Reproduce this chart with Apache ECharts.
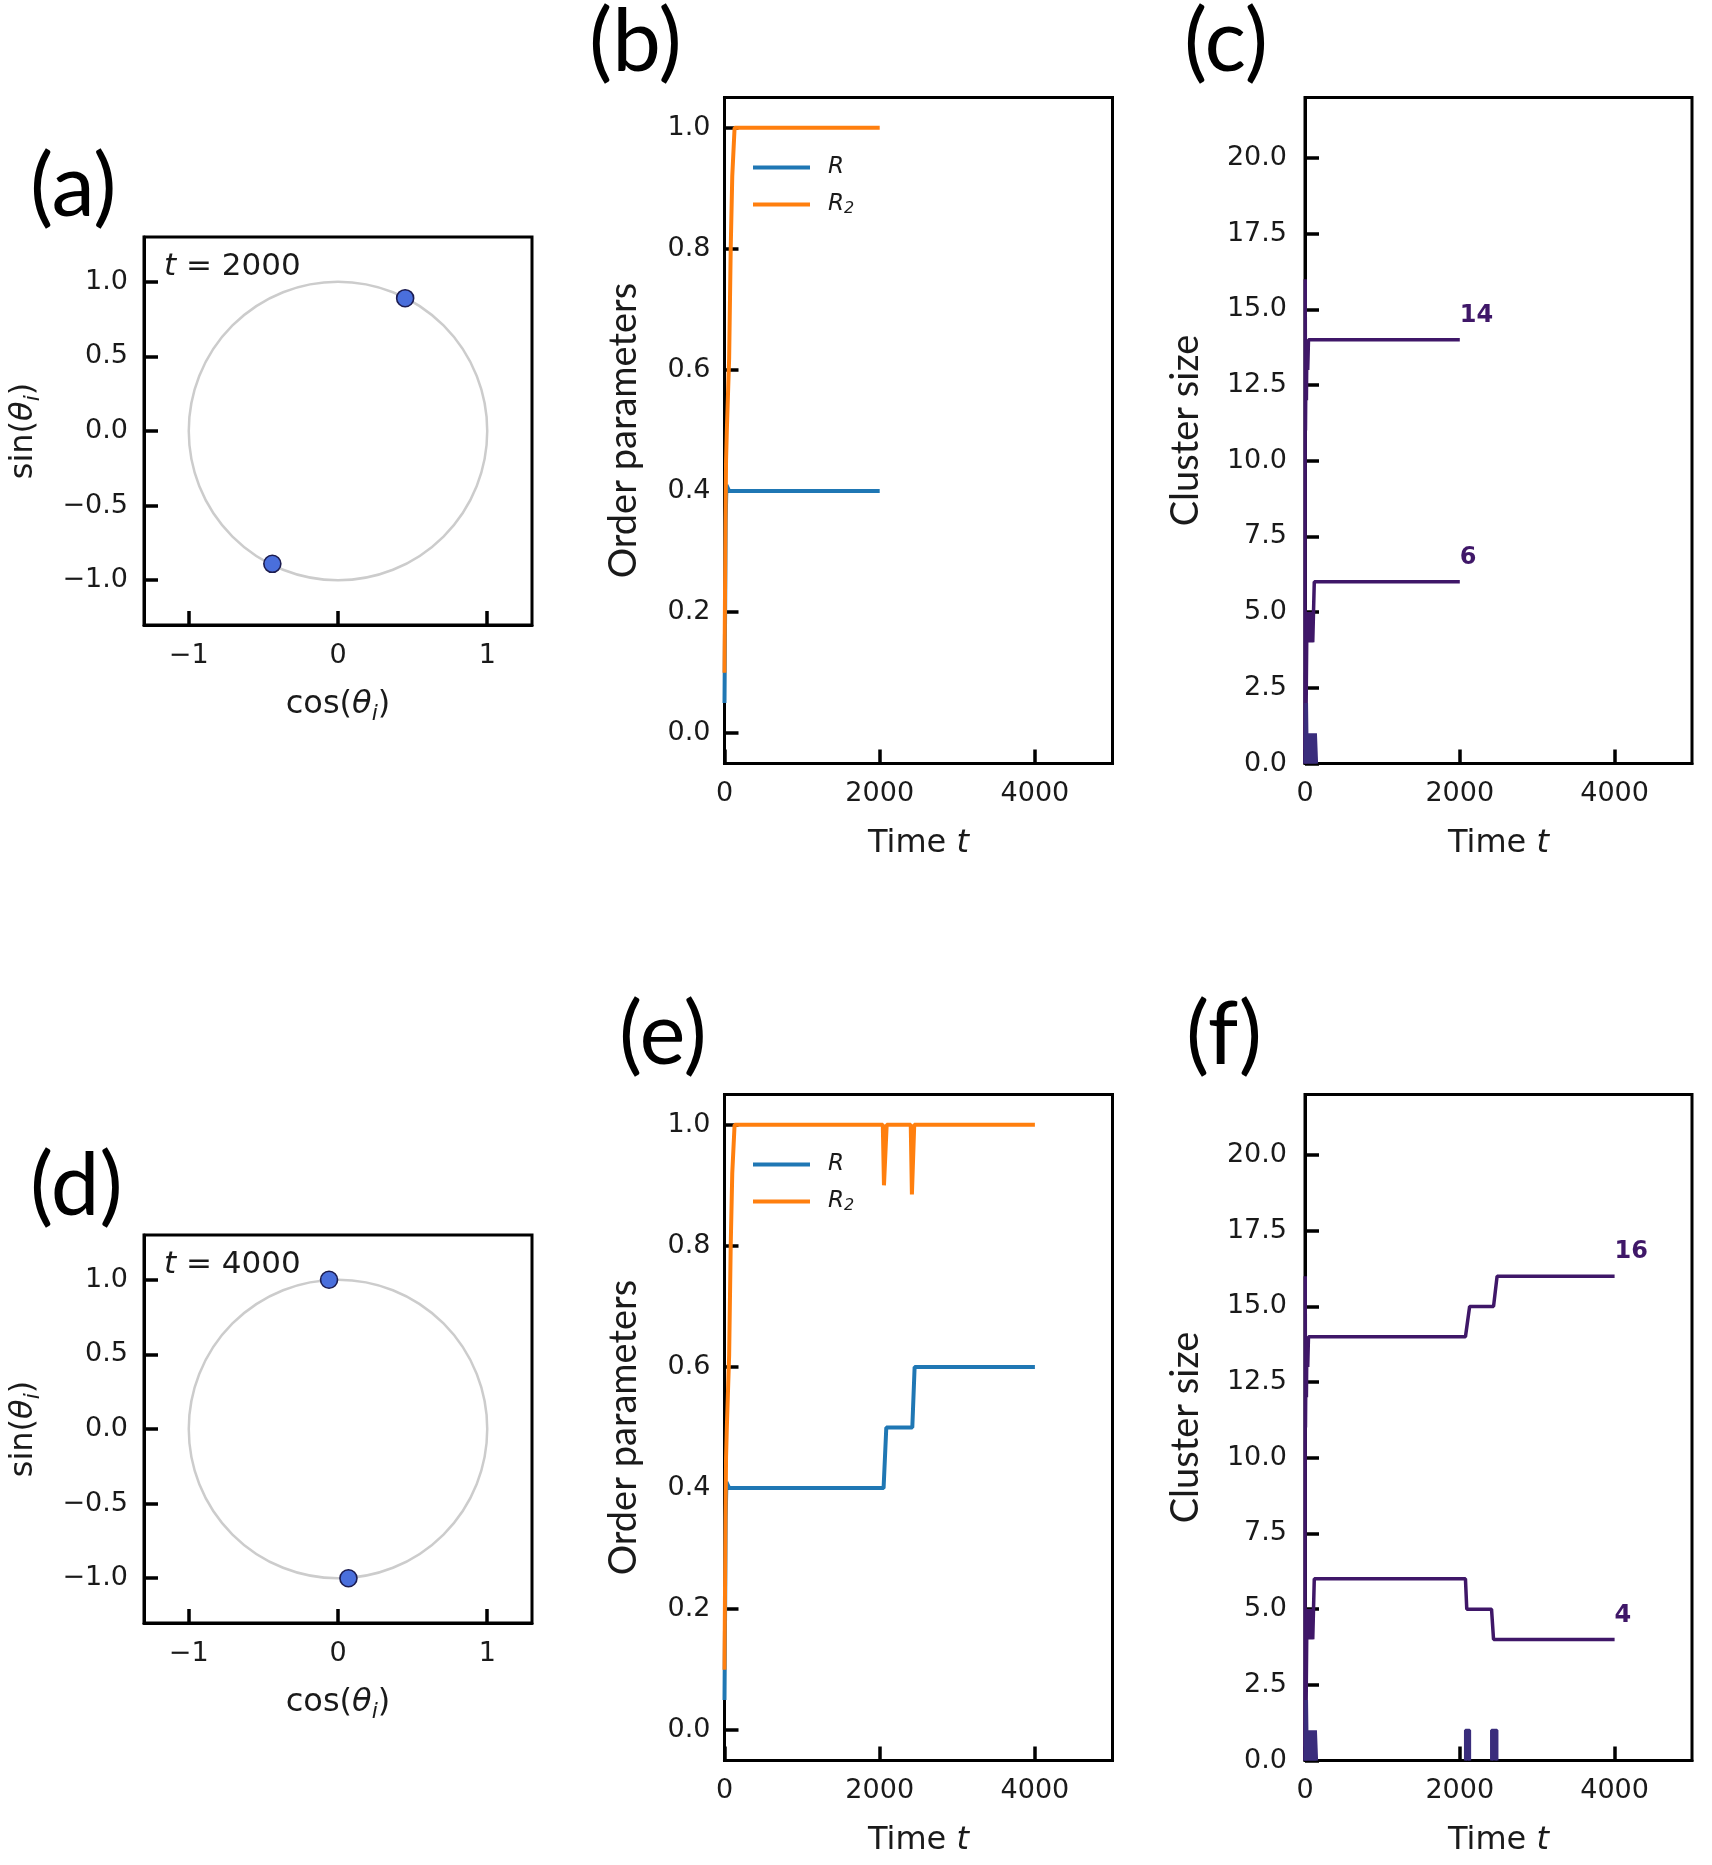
<!DOCTYPE html>
<html>
<head>
<meta charset="utf-8">
<script src="https://cdn.jsdelivr.net/npm/echarts@6/dist/echarts.min.js"></script>
<style>
  html, body { margin: 0; padding: 0; background: #fff; }
  #chart { width: 1712px; height: 1865px; }
</style>
</head>
<body>
<div id="chart"></div>
<script>
// ---- data ----

// phase snapshots (cos, sin) at t = 2000 and t = 4000
const phasesT2000 = [[0.45, 0.89], [-0.44, -0.89]];
const phasesT4000 = [[-0.06, 1.0], [0.07, -1.0]];
const unitCircle = [[0, 0, 1]]; // centre x, centre y, radius

// order parameters: shared start, then the two run lengths
const R_early = [[0, 0.05], [8, 0.2], [15, 0.35], [25, 0.41], [45, 0.41], [60, 0.40]];
const R_to2000 = [[2000, 0.40]];
const R_to4000 = [[2050, 0.40], [2085, 0.50], [2420, 0.50], [2450, 0.60], [4000, 0.60]];

const R2_early = [[0, 0.1], [10, 0.3], [20, 0.45], [30, 0.5], [45, 0.5], [60, 0.62], [80, 0.8], [100, 0.92], [130, 1.0]];
const R2_to2000 = [[2000, 1.0]];
const R2_to4000 = [[2040, 1.0], [2055, 0.90], [2075, 0.90], [2090, 1.0],
                   [2400, 1.0], [2415, 0.885], [2430, 0.885], [2445, 1.0], [4000, 1.0]];

// cluster sizes
const bigEarly = [[0, 0], [3, 16], [6, 11], [12, 13], [18, 12], [25, 14], [35, 13], [45, 14]];
const bigTo2000 = [[2000, 14]];
const bigTo4000 = [[2073, 14], [2127, 15], [2436, 15], [2482, 16], [4000, 16]];

const secondEarly = [[0, 0], [8, 3], [15, 2], [22, 4], [30, 5], [40, 4], [50, 5], [60, 4],
                     [70, 5], [80, 4], [90, 5], [100, 4], [110, 5], [120, 6]];
const secondTo2000 = [[2000, 6]];
const secondTo4000 = [[2073, 6], [2090, 5], [2410, 5], [2436, 4], [4000, 4]];

const singlesEarly = [[0, 0], [10, 2], [15, 1], [20, 2], [25, 1], [30, 0], [35, 1], [45, 0],
                      [55, 1], [65, 0], [75, 1], [85, 0], [95, 1], [105, 0], [115, 1],
                      [125, 0], [135, 1], [145, 1], [150, 0]];
const singlesLate = [
  [[2073, 0], [2073, 1], [2127, 1], [2127, 0]],
  [[2410, 0], [2410, 1], [2480, 1], [2480, 0]]
];

// tick values
const circleTicksX = [-1, 0, 1];
const circleTicksY = [-1, -0.5, 0, 0.5, 1];
const timeTicks = [0, 2000, 4000];
const orderTicks = [0, 0.2, 0.4, 0.6, 0.8, 1.0];
const sizeTicks = [0, 2.5, 5, 7.5, 10, 12.5, 15, 17.5, 20];

// ---- styling ----
const FONT = 'DejaVu Sans';
const NAME_FONT = 'Lato';
const INK = '#1a1a1a';
const BLUE = '#1f77b4';
const ORANGE = '#ff7f0e';
const PURPLE = '#3f1768';
const PURPLE_SMALL = '#3a2d7c';

// [left, top, width, height] of each axes box: a, b, c, d, e, f
const boxes = [
  [144, 237, 388, 388],
  [724.5, 97.5, 388, 666],
  [1305, 97.5, 387, 666],
  [144, 1235, 388, 388],
  [724.5, 1094.5, 388, 666],
  [1305, 1094.5, 387, 666]
];

const signed1 = v => (v < 0 ? '\u2212' : '') + Math.abs(v).toFixed(1);
const signedInt = v => (v < 0 ? '\u2212' : '') + Math.abs(v);
const oneDec = v => v.toFixed(1);
const plain = v => String(v);

const mathName = {
  fontFamily: FONT, fontSize: 32, color: INK, lineHeight: 40,
  rich: {
    i: { fontFamily: FONT, fontSize: 32, fontStyle: 'italic', color: INK, lineHeight: 40 },
    s: { fontFamily: FONT, fontSize: 22, fontStyle: 'italic', color: INK, lineHeight: 16, verticalAlign: 'bottom' }
  }
};
const wordName = { fontFamily: NAME_FONT, fontSize: 38, color: INK, lineHeight: 46 };

function makeAxis(gridIndex, min, max, values, fmt, name, nameGap, nameStyle, margin) {
  return {
    type: 'value', gridIndex, min, max,
    axisLine: { show: true, onZero: false, lineStyle: { color: '#000', width: 3 } },
    splitLine: { show: false },
    axisTick: { show: true, inside: true, length: 14, lineStyle: { color: '#000', width: 3.5 }, customValues: values },
    axisLabel: { show: true, customValues: values, formatter: fmt, fontFamily: FONT, fontSize: 27, color: INK, margin },
    name, nameLocation: 'middle', nameGap, nameTextStyle: nameStyle
  };
}

const xAxes = [], yAxes = [];
[0, 3].forEach(g => {
  xAxes[g] = makeAxis(g, -1.3, 1.3, circleTicksX, signedInt, 'cos({i|θ}{s|i})', 60, mathName, 17);
  yAxes[g] = makeAxis(g, -1.3, 1.3, circleTicksY, signed1, 'sin({i|θ}{s|i})', 100, mathName, 16);
});
[1, 4].forEach(g => {
  xAxes[g] = makeAxis(g, 0, 5000, timeTicks, plain, 'Time {i|t}', 60, mathName, 17);
  yAxes[g] = makeAxis(g, -0.05, 1.05, orderTicks, oneDec, 'Order parameters', 78, wordName, 14);
});
[2, 5].forEach(g => {
  xAxes[g] = makeAxis(g, 0, 5000, timeTicks, plain, 'Time {i|t}', 60, mathName, 17);
  yAxes[g] = makeAxis(g, 0, 22, sizeTicks, oneDec, 'Cluster size', 96, wordName, 18);
});

const grids = boxes.map(([left, top, width, height]) => ({
  left, top, width, height, show: true, borderColor: '#000', borderWidth: 3, backgroundColor: 'transparent'
}));

function circleSeries(g) {
  return {
    type: 'custom', xAxisIndex: g, yAxisIndex: g, data: unitCircle, silent: true, z: 1,
    renderItem: (params, api) => {
      const c = api.coord([api.value(0), api.value(1)]);
      const r = api.size([api.value(2), 0])[0];
      return { type: 'circle', shape: { cx: c[0], cy: c[1], r }, style: { fill: 'none', stroke: '#cccccc', lineWidth: 2.5 } };
    }
  };
}
function dotSeries(g, data) {
  return {
    type: 'scatter', xAxisIndex: g, yAxisIndex: g, data, symbolSize: 17, z: 3,
    itemStyle: { color: '#4a6fdc', borderColor: '#1c1c50', borderWidth: 1.6, opacity: 1 }
  };
}
function line(g, name, data, color, width, extra) {
  return Object.assign({
    type: 'line', name, xAxisIndex: g, yAxisIndex: g, data,
    showSymbol: false, symbol: 'none', z: 2,
    lineStyle: { color, width }, itemStyle: { color }
  }, extra || {});
}
function endTag(text) {
  return {
    endLabel: {
      show: true, formatter: text, distance: 0, offset: [0, -24],
      fontFamily: FONT, fontWeight: 'bold', fontSize: 24, color: PURPLE
    }
  };
}
const filled = { areaStyle: { color: PURPLE_SMALL, opacity: 1 } };

const series = [
  circleSeries(0), dotSeries(0, phasesT2000),
  circleSeries(3), dotSeries(3, phasesT4000),

  line(1, 'R', R_early.concat(R_to2000), BLUE, 4),
  line(1, 'R2', R2_early.concat(R2_to2000), ORANGE, 4),
  line(4, 'R', R_early.concat(R_to4000), BLUE, 4),
  line(4, 'R2', R2_early.concat(R2_to4000), ORANGE, 4),

  line(2, 'big', bigEarly.concat(bigTo2000), PURPLE, 3.5, endTag('14')),
  line(2, 'second', secondEarly.concat(secondTo2000), PURPLE, 3.5, endTag('6')),
  line(2, 'single', singlesEarly, PURPLE_SMALL, 3, filled),

  line(5, 'big', bigEarly.concat(bigTo4000), PURPLE, 3.5, endTag('16')),
  line(5, 'second', secondEarly.concat(secondTo4000), PURPLE, 3.5, endTag('4')),
  line(5, 'single', singlesEarly, PURPLE_SMALL, 3, filled)
].concat(singlesLate.map(seg => line(5, 'single', seg, PURPLE_SMALL, 3, filled)));

const panelTag = (text, left, top) => ({
  text, left, top, padding: 0,
  textStyle: { fontFamily: NAME_FONT, fontSize: 87, fontWeight: 'normal', color: '#000' }
});
const legendFor = top => ({
  data: ['R', 'R2'], orient: 'vertical', left: 753, top, padding: 0,
  icon: 'rect', itemWidth: 57, itemHeight: 4, itemGap: 14,
  formatter: name => name === 'R2' ? '{i|R}{s|2}' : '{i|R}',
  textStyle: {
    fontFamily: FONT, fontSize: 23, color: INK,
    rich: {
      i: { fontFamily: FONT, fontSize: 23, fontStyle: 'italic', color: INK, lineHeight: 24, padding: [0, 0, 0, 13] },
      s: { fontFamily: FONT, fontSize: 16, fontStyle: 'italic', color: INK, lineHeight: 10, verticalAlign: 'bottom' }
    }
  }
});

const tStamp = (value, top) => ({
  text: '{i|t} = ' + value, left: 164, top, padding: 0,
  textStyle: { fontFamily: FONT, fontSize: 31, fontWeight: 'normal', color: INK,
    rich: { i: { fontFamily: FONT, fontSize: 31, fontStyle: 'italic', color: INK } } }
});

const chart = echarts.init(document.getElementById('chart'));
chart.setOption({
  animation: false,
  backgroundColor: '#fff',
  title: [
    panelTag('(a)', 30, 144),
    panelTag('(b)', 589, -1),
    panelTag('(c)', 1184, -1),
    panelTag('(d)', 30, 1143),
    panelTag('(e)', 619, 992),
    panelTag('(f)', 1186, 992),
    tStamp('2000', 251),
    tStamp('4000', 1249)
  ],
  legend: [legendFor(156), legendFor(1153)],
  grid: grids,
  xAxis: xAxes,
  yAxis: yAxes,
  series
});
</script>
</body>
</html>
